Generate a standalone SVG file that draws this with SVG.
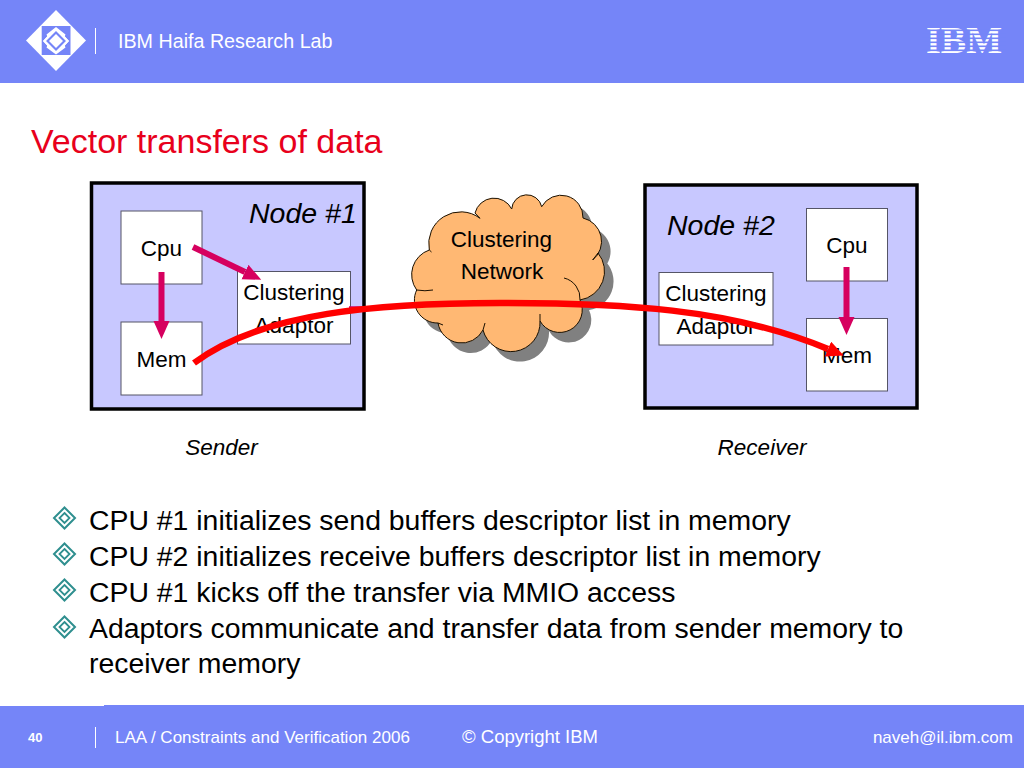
<svg xmlns="http://www.w3.org/2000/svg" width="1024" height="768" viewBox="0 0 1024 768">
<style>
text{font-family:"Liberation Sans",Arial,sans-serif;fill:#000}
.bar{fill:#7585F8}
.w{fill:#fff}
.sep{stroke:#fff;stroke-width:1;fill:none}
.node{fill:#C8C8FF;stroke:#000;stroke-width:3.5}
.box{fill:#fff;stroke:#555566;stroke-width:1}
.lbl{font-size:22.5px;text-anchor:middle}
.nt{font-size:28.500px;font-style:italic}
.cap{font-size:22.500px;font-style:italic;text-anchor:middle}
.bul{font-size:28.400px}
.pink{stroke:#D6005F;stroke-width:6;fill:none}
.red{stroke:#FF0000;stroke-width:6.500;fill:none}
.hd{fill:#fff;font-size:19.700px}
.ft{fill:#fff;font-size:17px}
.cl{stroke:#1A1000;stroke-width:1}
</style>
<defs>
<marker id="ph" markerUnits="userSpaceOnUse" markerWidth="20" markerHeight="18" refX="0" refY="8" orient="auto"><path d="M0,0L18,8L0,16Z" fill="#D6005F"/></marker>
<marker id="rh" markerUnits="userSpaceOnUse" markerWidth="20" markerHeight="18" refX="0" refY="8" orient="auto"><path d="M0,0L17,8L0,16Z" fill="#FF0000"/></marker>
<g id="dia"><path d="M0,-10.500L10.500,0L0,10.500L-10.500,0Z" fill="none" stroke="#2F8F8F" stroke-width="2"/><path d="M0,-5L5,0L0,5L-5,0Z" fill="none" stroke="#2F8F8F" stroke-width="1.800"/></g>
<path id="cloudshape" d="M416.700,290A26,26 0 0 1 429.300,250A32,32 0 0 1 480,218.300L475,213A19.700,19.700 0 0 1 511.700,209A15.200,15.200 0 0 1 541.700,206.700A22,22 0 0 1 583,218A24,24 0 0 1 592.700,260L598,253A29,29 0 0 1 580,300A22.600,22.600 0 0 1 540,321A29,29 0 0 1 483,330A24,24 0 0 1 438,323A23,23 0 0 1 416.700,290Z"/>
</defs>
<rect width="1024" height="768" fill="#fff"/>
<g id="header">
<rect class="bar" width="1024" height="83"/>
<path class="w" d="M56,10L86,40.500L56,71L26,40.500Z"/>
<path class="bar" d="M41.700,26H70.500V55H41.700Z"/>
<path class="w" d="M56,27L65.500,34.500L63,41L65.500,47.500L56,54.500L46.500,47.500L49,41L46.500,34.500Z"/>
<path class="w" d="M43,41L49,34.500L52,41L49,47.500ZM69,41L63,34.500L60,41L63,47.500Z"/>
<path class="bar" d="M56,31L66,41L56,51L46,41Z"/>
<path class="w" d="M56,34L63,41L56,48L49,41Z"/>
<path class="w" d="M43,41L49,34.500L50.500,36L45.500,41L50.500,46L49,47.500ZM69,41L63,34.500L61.500,36L66.500,41L61.500,46L63,47.500Z"/>
<line class="sep" x1="95.500" y1="28" x2="95.500" y2="54"/>
<text class="hd" x="118" y="48">IBM Haifa Research Lab</text>
<text x="926" y="53" textLength="76" lengthAdjust="spacingAndGlyphs" style="font-family:'Liberation Serif',serif;font-weight:bold;font-size:37px;fill:#fff">IBM</text>
<g fill="#7585F8"><rect x="922" y="29.500" width="84" height="1.600"/><rect x="922" y="33.500" width="84" height="1.600"/><rect x="922" y="37.500" width="84" height="1.600"/><rect x="922" y="41.500" width="84" height="1.600"/><rect x="922" y="45.500" width="84" height="1.600"/><rect x="922" y="49.500" width="84" height="1.600"/></g>
</g>
<text x="31" y="153" style="font-size:34px;fill:#E8001C">Vector transfers of data</text>
<g id="node1">
<rect class="node" x="91.500" y="183" width="272.500" height="226"/>
<text class="nt" x="249" y="223">Node #1</text>
</g>
<g id="cpu1"><rect class="box" x="121" y="211" width="81" height="73"/><text class="lbl" x="161.500" y="256">Cpu</text></g>
<g id="mem1"><rect class="box" x="121" y="322" width="81" height="73"/><text class="lbl" x="161.500" y="367">Mem</text></g>
<g id="adaptor1"><rect class="box" x="237.500" y="271.500" width="113" height="72.500"/><text class="lbl" x="294" y="300">Clustering</text><text class="lbl" x="294" y="333">Adaptor</text></g>
<g id="node2">
<rect class="node" x="645" y="185" width="272" height="223"/>
<text class="nt" x="667" y="235">Node #2</text>
</g>
<g id="cpu2"><rect class="box" x="806.500" y="208.500" width="81" height="72.500"/><text class="lbl" x="847" y="253">Cpu</text></g>
<g id="mem2"><rect class="box" x="806.500" y="318.500" width="81" height="72.500"/><text class="lbl" x="847" y="363">Mem</text></g>
<g id="adaptor2"><rect class="box" x="659" y="272.500" width="114" height="72.500"/><text class="lbl" x="716" y="301">Clustering</text><text class="lbl" x="716" y="334">Adaptor</text></g>
<g id="cloud">
<use href="#cloudshape" x="9" y="10" fill="#808080"/>
<use href="#cloudshape" fill="#FFB873" class="cl"/>
<path class="cl" fill="none" d="M416.700,290Q425,291.500 433,290M429.300,250L431.500,252M564,278A21,21 0 0 1 580,300M540,321L540,314M483,330L485,323M438,323L443,325"/>
<text class="lbl" x="501.500" y="247">Clustering</text>
<text class="lbl" x="502" y="279">Network</text>
</g>
<g id="connectors">
<line class="pink" x1="161.500" y1="272" x2="161.500" y2="321" marker-end="url(#ph)"/>
<line class="pink" x1="193" y1="247" x2="245" y2="272" marker-end="url(#ph)"/>
<line class="pink" x1="846.500" y1="267" x2="846.500" y2="317" marker-end="url(#ph)"/>
<line x1="349" y1="307.500" x2="405" y2="307.500" stroke="#D6005F" stroke-width="2.500"/>
<path class="red" d="M194,363C262,312 380,303 500,303C620,303 730,308 828,349" marker-end="url(#rh)"/>
</g>
<text class="cap" x="221.500" y="455">Sender</text>
<text class="cap" x="762" y="455">Receiver</text>
<g id="bullets">
<use href="#dia" x="64.500" y="518"/><use href="#dia" x="64.500" y="554"/><use href="#dia" x="64.500" y="590"/><use href="#dia" x="64.500" y="627"/>
<text class="bul" x="89" y="530">CPU #1 initializes send buffers descriptor list in memory</text>
<text class="bul" x="89" y="566">CPU #2 initializes receive buffers descriptor list in memory</text>
<text class="bul" x="89" y="602">CPU #1 kicks off the transfer via MMIO access</text>
<text class="bul" x="89" y="638">Adaptors communicate and transfer data from sender memory to</text>
<text class="bul" x="89" y="673">receiver memory</text>
</g>
<g id="footer">
<path class="bar" d="M0,706H104V705H1024V768H0Z"/>
<text x="28" y="742" style="font-size:13px;font-weight:bold;fill:#fff">40</text>
<line class="sep" x1="95.500" y1="727" x2="95.500" y2="748"/>
<text class="ft" x="115" y="743">LAA / Constraints and Verification 2006</text>
<text x="462" y="743" style="font-size:18.500px;fill:#fff">© Copyright IBM</text>
<text class="ft" x="1013" y="743" text-anchor="end">naveh@il.ibm.com</text>
</g>
</svg>
